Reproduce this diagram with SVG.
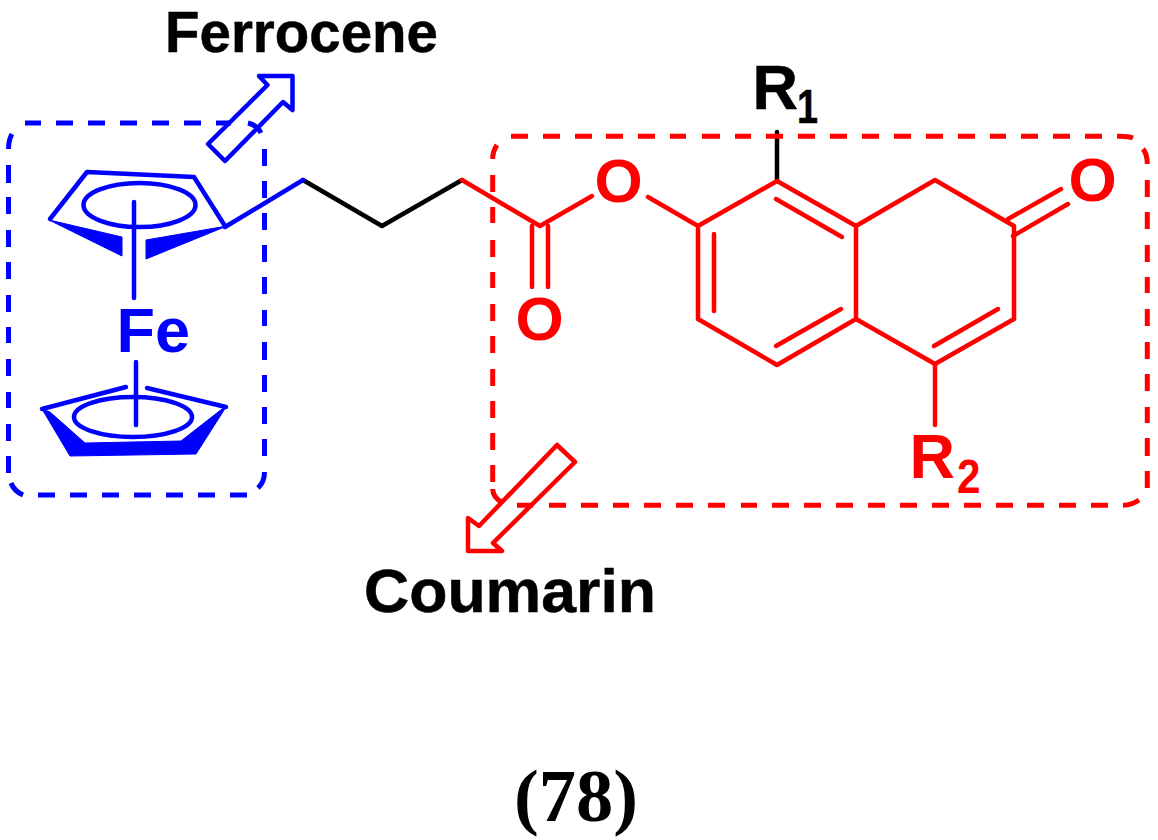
<svg xmlns="http://www.w3.org/2000/svg" width="1158" height="840" viewBox="0 0 1158 840">
<style>
.b{fill:none;stroke:#0000ff;stroke-width:4.5;stroke-linecap:round;stroke-linejoin:round}
.bf{fill:#0000ff;stroke:#0000ff;stroke-width:1}
.r{fill:none;stroke:#ff0000;stroke-width:4.5;stroke-linecap:round;stroke-linejoin:round}
.k{fill:none;stroke:#000;stroke-width:4.5;stroke-linecap:round;stroke-linejoin:round}
.bd{stroke-width:5;stroke-linecap:butt}
text{font-family:"Liberation Sans",Arial,sans-serif;font-weight:bold}
.lb{fill:#000;stroke:#000;stroke-width:.5}
.lr{font-size:62px;fill:#ff0000}
.sub{font-size:48px}
</style>
<rect width="1158" height="840" fill="#fff"/>
<g id="connectors">
<path class="k" d="M303 180L382 226L462 180"/>
<path class="k" d="M777 181V132" stroke-linecap="butt"/>
</g>
<g id="ferrocene-box">
<path class="b bd" d="M25 123h16M56 123h17M88 123h17M120 123h17M152 123h17M184 123h17M216 123h15M248 123Q257 125 261 133M264.5 149v17M264.5 181v17M264.5 213v17M264.5 245v17M264.5 277v17M264.5 310v16M264.5 342v18M264.5 375v17M264.5 407v17M264.5 439v17M264.5 472Q264.5 482 258 488M247 495h-17M215 495h-17M183 495h-17M151 495h-17M119 495h-17M87 495h-17M55 495h-17M23 495Q14 491 11 483M8.5 473v-17M8.5 441v-17M8.5 408v-16M8.5 376v-17M8.5 343v-16M8.5 312v-17M8.5 279v-17M8.5 247v-17M8.5 214v-17M8.5 183v-18M8.5 149Q8.5 140 12 134"/>
</g>
<g id="coumarin-box">
<path class="r bd" d="M511 136.300h17M543 136.300h17M575 136.300h17M606 136.300h17M638 136.300h17M670 136.300h16M702 136.300h18M735 136.300h16M766 136.300h17M798 136.300h17M830 136.300h17M862 136.300h17M894 136.300h17M926 136.300h17M958 136.300h17M990 136.300h16M1021 136.300h17M1053 136.300h17M1085 136.300h17M1117 136.300Q1128 136 1133 138M1143 149Q1147.300 154 1147.300 164M1147.300 180v17M1147.300 212v17M1147.300 245v17M1147.300 277v16M1147.300 309v17M1147.300 342v17M1147.300 374v17M1147.300 407v16M1147.300 438v18M1147.300 471v17M1139 500Q1132 505 1123 505.300M1108 505.300h-17M1076 505.300h-17M1044 505.300h-17M1013 505.300h-17M981 505.300h-17M949 505.300h-17M917 505.300h-17M885 505.300h-17M853 505.300h-17M821 505.300h-17M789 505.300h-17M757 505.300h-16M725 505.300h-17M693 505.300h-17M661 505.300h-17M629 505.300h-16M598 505.300h-17M566 505.300h-17M533 505.300h-16M502 502Q493 498 492.700 489M492.700 482v-17M492.700 450v-17M492.700 418v-17M492.700 386v-17M492.700 353v-17M492.700 321v-17M492.700 288v-16M492.700 257v-17M492.700 223v-16M492.700 192v-17M492.700 159Q492.700 151 497 145"/>
</g>
<g id="ferrocene">
<path class="b" d="M225 227L303 180"/>
<path class="b" d="M50 219L87 172L194 177L225 226"/>
<ellipse class="b" cx="139.500" cy="205" rx="56" ry="22"/>
<path class="b" d="M134 202V298" stroke-linecap="butt"/>
<path class="bf" d="M49 220L122 237V256Z"/>
<path class="bf" d="M146 240L227 226L146 259Z"/>
<text x="116.500" y="352" font-size="63" fill="#0000ff">Fe</text>
<path class="b" d="M136 362V425"/>
<path class="b" d="M126 387L42 409"/>
<path class="b" d="M147 388L226 407"/>
<ellipse class="b" cx="133" cy="417" rx="59" ry="20"/>
<path class="bf" d="M42 409L50 412L85 443L181 441L222 409L226 407L196 454L70 456Z"/>
</g>
<g id="ferrocene-arrow">
<path class="b" d="M208 144L225 161L283 102L292.500 110V76H259L267.500 85Z"/>
</g>
<text class="lb" x="165" y="52" font-size="57" textLength="273" lengthAdjust="spacingAndGlyphs">Ferrocene</text>
<g id="coumarin">
<path class="r" d="M462 180L540 226L592 196"/>
<path class="r" d="M532 226V287M548 226V287" stroke-linecap="butt"/>
<path class="r" d="M648 197L698 226V319L777 365L856 319V226L777 181L698 226"/>
<path class="r" d="M714 234V311"/>
<path class="r" d="M776 346L841 309"/>
<path class="r" d="M776 199L842 237"/>
<path class="r" d="M856 226L935 180L1014 226V319L935 364L856 319"/>
<path class="r" d="M934 346L998 309"/>
<path class="r" d="M1008 219L1061 189M1013 236L1068 204"/>
<path class="r" d="M935 364V425" stroke-linecap="butt"/>
<text class="lr" x="594.500" y="202">O</text>
<text class="lr" x="515.500" y="340">O</text>
<text class="lr" x="1068.500" y="201">O</text>
<text class="lb" font-size="63" x="752.500" y="109">R<tspan class="sub" x="797" y="123" textLength="21" lengthAdjust="spacingAndGlyphs">1</tspan></text>
<text class="lr" style="font-size:63px" x="909.500" y="478">R<tspan class="sub" x="957" y="493" textLength="23.500" lengthAdjust="spacingAndGlyphs">2</tspan></text>
</g>
<g id="coumarin-arrow">
<path class="r" d="M557 445L575 462L493 543L502 551H468V518L479 526Z"/>
</g>
<text class="lb" x="364" y="612" font-size="61" textLength="292" lengthAdjust="spacingAndGlyphs">Coumarin</text>
<text x="514" y="821" font-size="74" textLength="124" lengthAdjust="spacingAndGlyphs" style="font-family:'Liberation Serif',serif">(78)</text>
</svg>
